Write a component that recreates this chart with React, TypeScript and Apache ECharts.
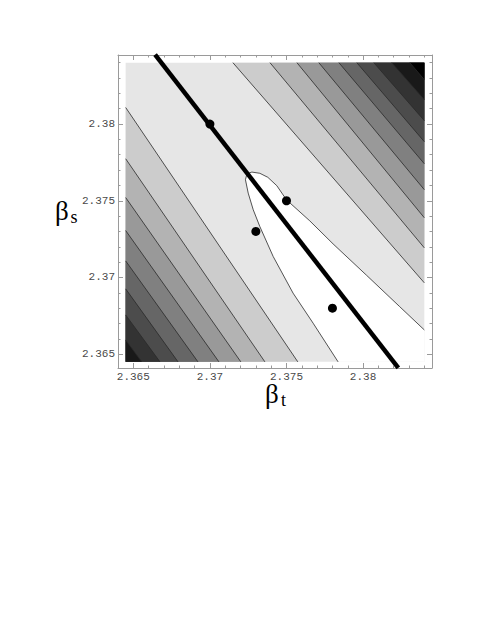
import React, { useEffect, useRef } from "react";
import * as echarts from "echarts";

// Axis extents (frame) and data extents (shaded plot region)
const AXIS_X_RANGE = [2.364, 2.3845];
const AXIS_Y_RANGE = [2.3641, 2.3845];
const PLOT_X_RANGE = [2.3645, 2.384];
const PLOT_Y_RANGE = [2.3645, 2.384];

// Tick values
const MAJOR_TICKS = [2.365, 2.37, 2.375, 2.38];
const MINOR_TICKS = [
  2.364, 2.366, 2.367, 2.368, 2.369, 2.371, 2.372, 2.373, 2.374, 2.376, 2.377,
  2.378, 2.379, 2.381, 2.382, 2.383, 2.384,
];

// Lower-left contour lines: start on left edge (y), end on bottom edge (x)
const LL_LEFT_Y = [2.38108, 2.37774, 2.37521, 2.37306, 2.37108, 2.36926, 2.36756, 2.36593];
const LL_BOTTOM_X = [2.37574, 2.37359, 2.37202, 2.37059, 2.36922, 2.36792, 2.36674, 2.36555];

// Upper-right contour lines: start on top edge (x), end on right edge (y)
const UR_TOP_X = [2.3715, 2.37392, 2.37568, 2.37711, 2.37842, 2.37959, 2.3807, 2.38187, 2.38305];
const UR_RIGHT_Y = [2.36965, 2.37193, 2.37389, 2.37572, 2.37741, 2.37885, 2.38022, 2.38159, 2.38289];

// Innermost (white) contour
const INNER_CONTOUR_X = [
  2.37837, 2.37674, 2.37543, 2.37413, 2.37326, 2.37283, 2.3725, 2.37232, 2.37242,
  2.37274, 2.37326, 2.37378, 2.37437, 2.375, 2.37652, 2.37804, 2.38022, 2.38239, 2.384,
];
const INNER_CONTOUR_Y = [
  2.3645, 2.36702, 2.36898, 2.37137, 2.37332, 2.37441, 2.3755, 2.37637, 2.37676,
  2.37687, 2.37679, 2.37653, 2.37598, 2.37506, 2.37369, 2.37219, 2.37015, 2.3681, 2.36658,
];

// Thick fitted line
const FIT_LINE_X = [2.36642, 2.3823];
const FIT_LINE_Y = [2.38452, 2.36411];

// Data points
const POINTS_X = [2.37, 2.373, 2.375, 2.378];
const POINTS_Y = [2.38, 2.373, 2.375, 2.368];

const gray = (level: number) => {
  const v = Math.round(255 * (1 - 0.1 * level));
  return `rgb(${v},${v},${v})`;
};

export default function App() {
  const ref = useRef<HTMLDivElement>(null);

  useEffect(() => {
    if (!ref.current) return;
    const chart = echarts.init(ref.current, null, { renderer: "svg" });

    const [xmin, xmax] = PLOT_X_RANGE;
    const [ymin, ymax] = PLOT_Y_RANGE;

    type Band = { pts: number[][]; level: number };
    const bands: Band[] = [];
    bands.push({
      pts: [
        [xmin, ymin],
        [xmax, ymin],
        [xmax, ymax],
        [xmin, ymax],
      ],
      level: 1,
    });
    LL_LEFT_Y.forEach((ly, i) => {
      bands.push({
        pts: [
          [xmin, ly],
          [LL_BOTTOM_X[i], ymin],
          [xmin, ymin],
        ],
        level: i + 2,
      });
    });
    UR_TOP_X.forEach((tx, j) => {
      bands.push({
        pts: [
          [tx, ymax],
          [xmax, ymax],
          [xmax, UR_RIGHT_Y[j]],
        ],
        level: j + 2,
      });
    });
    const inner = INNER_CONTOUR_X.map((x, i) => [x, INNER_CONTOUR_Y[i]]);
    bands.push({ pts: [...inner, [xmax, ymin]], level: 0 });

    const lines: number[][][] = [];
    LL_LEFT_Y.forEach((ly, i) => lines.push([[xmin, ly], [LL_BOTTOM_X[i], ymin]]));
    UR_TOP_X.forEach((tx, j) => lines.push([[tx, ymax], [xmax, UR_RIGHT_Y[j]]]));
    lines.push(inner);

    const frameColor = "#9a9a9a";
    const labelStyle = {
      fontFamily: "Liberation Mono",
      fontSize: 11,
      color: "#4a4a4a",
      formatter: (v: number) => String(+(+v).toFixed(4)),
    };

    const mkAxis = (range: number[], position: string, major: boolean, labels: boolean) => ({
      type: "value",
      position,
      min: range[0],
      max: range[1],
      axisLine: { show: major, onZero: false, lineStyle: { color: frameColor, width: 1 } },
      axisTick: {
        show: true,
        inside: true,
        length: major ? 5 : 2.5,
        customValues: major ? MAJOR_TICKS : MINOR_TICKS,
        lineStyle: { color: frameColor, width: 1 },
      },
      axisLabel: labels
        ? { show: true, customValues: MAJOR_TICKS, margin: 3, ...labelStyle }
        : { show: false },
      splitLine: { show: false },
    });

    const titleText = (x: number, y: number, text: string, size: number) => ({
      type: "text",
      x,
      y,
      style: {
        text,
        fontFamily: "Liberation Serif",
        fontSize: size,
        fill: "#000",
        align: "left",
        verticalAlign: "middle",
      },
    });

    const option = {
      animation: false,
      backgroundColor: "#fff",
      grid: { left: 118, top: 55, width: 314, height: 313, containLabel: false },
      xAxis: [
        mkAxis(AXIS_X_RANGE, "bottom", true, true),
        mkAxis(AXIS_X_RANGE, "bottom", false, false),
        mkAxis(AXIS_X_RANGE, "top", true, false),
        mkAxis(AXIS_X_RANGE, "top", false, false),
      ],
      yAxis: [
        mkAxis(AXIS_Y_RANGE, "left", true, true),
        mkAxis(AXIS_Y_RANGE, "left", false, false),
        mkAxis(AXIS_Y_RANGE, "right", true, false),
        mkAxis(AXIS_Y_RANGE, "right", false, false),
      ],
      series: [
        {
          type: "custom",
          coordinateSystem: "cartesian2d",
          silent: true,
          z: 1,
          data: bands.map((b) => b.pts[0]),
          renderItem: (params: any, api: any) => {
            const b = bands[params.dataIndex];
            return {
              type: "polygon",
              shape: { points: b.pts.map((p) => api.coord(p)) },
              style: { fill: gray(b.level), stroke: "none" },
            };
          },
        },
        {
          type: "custom",
          coordinateSystem: "cartesian2d",
          silent: true,
          z: 2,
          data: lines.map((l) => l[0]),
          renderItem: (params: any, api: any) => {
            const l = lines[params.dataIndex];
            return {
              type: "polyline",
              shape: { points: l.map((p) => api.coord(p)) },
              style: { stroke: "#2a2a2a", lineWidth: 0.8, fill: null },
            };
          },
        },
        {
          type: "line",
          silent: true,
          z: 3,
          data: FIT_LINE_X.map((x, i) => [x, FIT_LINE_Y[i]]),
          showSymbol: false,
          symbol: "none",
          clip: true,
          lineStyle: { color: "#000", width: 4.5 },
        },
        {
          type: "scatter",
          silent: true,
          z: 4,
          data: POINTS_X.map((x, i) => [x, POINTS_Y[i]]),
          symbol: "circle",
          symbolSize: 9,
          itemStyle: { color: "#000", opacity: 1 },
        },
      ],
      graphic: [
        titleText(265, 394, "β", 27),
        titleText(281, 400, "t", 18),
        titleText(55, 211, "β", 27),
        titleText(70.5, 217, "s", 18),
      ],
    };

    chart.setOption(option as any);
    return () => chart.dispose();
  }, []);

  return (
    <div
      ref={ref}
      style={{ position: "absolute", left: 0, top: 0, width: 491, height: 635, background: "#fff" }}
    />
  );
}
